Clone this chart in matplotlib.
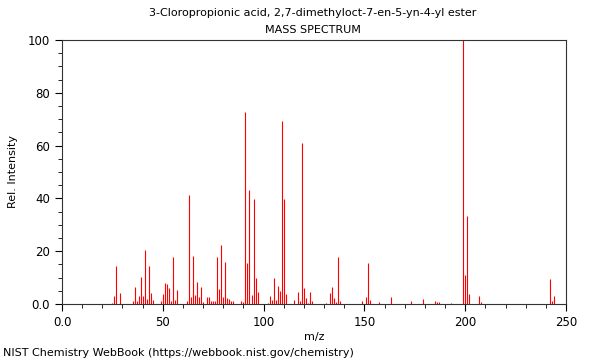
import numpy as np
import matplotlib
matplotlib.use("Agg")
import matplotlib.pyplot as plt
from matplotlib.ticker import MultipleLocator, FuncFormatter

# === Spectre de masse ===
mz = [25, 26, 27, 29, 35, 36, 37, 38, 39, 40, 41, 42, 43, 44, 45,
      49, 50, 51, 52, 53, 54, 55, 56, 57, 62, 63, 64, 65, 66, 67, 68, 69, 70,
      72, 73, 74, 75, 76, 77, 78, 79, 80, 81, 82, 83, 84, 85,
      89, 90, 91, 92, 93, 94, 95, 96, 97,
      102, 103, 104, 105, 106, 107, 108, 109, 110, 111,
      115, 117, 118, 119, 120, 121, 122, 123, 124,
      131, 133, 134, 135, 136, 137, 138,
      149, 151, 152, 153, 157, 163, 173, 179, 185, 186, 187, 193,
      199, 200, 201, 202, 207, 208, 242, 243, 244]
intensity = [0.5, 3.1, 14.4, 4.3, 1.0, 6.3, 1.0, 3.0, 10.3, 3.0, 20.4, 1.8, 14.4, 4.0, 1.5,
             1.0, 3.8, 8.0, 7.6, 6.0, 1.0, 17.7, 1.5, 5.3, 1.3, 41.3, 2.5, 18.2, 3.3, 8.3, 2.5, 6.3, 0.8,
             2.5, 2.5, 1.0, 1.0, 1.0, 17.9, 5.8, 22.3, 2.7, 16.0, 2.3, 2.0, 1.3, 1.3,
             1.0, 0.7, 72.8, 15.4, 43.2, 3.3, 39.8, 10.0, 4.5,
             0.5, 3.0, 1.4, 10.0, 1.4, 6.8, 5.0, 69.3, 39.8, 3.9,
             1.5, 4.6, 1.0, 61.1, 6.0, 2.3, 0.5, 4.6, 1.0,
             0.5, 4.2, 6.3, 2.3, 0.8, 17.9, 1.3,
             1.0, 2.8, 15.4, 1.5, 0.7, 2.5, 1.0, 1.8, 1.3, 0.8, 0.6, 0.4,
             100.0, 11.0, 33.3, 3.8, 3.0, 0.7, 9.3, 1.3, 3.1]

title = "3-Cloropropionic acid, 2,7-dimethyloct-7-en-5-yn-4-yl ester"

fig = plt.figure(figsize=(6, 3.6), dpi=100)
ax = fig.add_axes([62/600, 1-304/360, 504/600, 264/360])

ax.vlines(mz, 0, intensity, color="red", linewidth=0.8)

ax.set_xlim(0, 250)
ax.set_ylim(0, 100)
ax.xaxis.set_major_locator(MultipleLocator(50))
ax.xaxis.set_minor_locator(MultipleLocator(10))
ax.yaxis.set_major_locator(MultipleLocator(20))
ax.yaxis.set_minor_locator(MultipleLocator(5))
fmt = FuncFormatter(lambda v, p: "0.0" if v == 0 else "%d" % v)
ax.xaxis.set_major_formatter(fmt)
ax.yaxis.set_major_formatter(fmt)
ax.tick_params(which="major", length=5, width=0.8, labelsize=8.5)
ax.tick_params(which="minor", length=3, width=0.6)
for s in ax.spines.values():
    s.set_linewidth(0.8)
    s.set_color("#333333")

ax.set_xlabel("m/z", fontsize=8, labelpad=2)
ax.set_ylabel("Rel. Intensity", fontsize=8, labelpad=7)

fig.text(313/600, 1-13/360, title, ha="center", va="center", fontsize=8)
fig.text(313/600, 1-30/360, "MASS SPECTRUM", ha="center", va="center", fontsize=8)
fig.text(3/600, 1-353/360, "NIST Chemistry WebBook (https://webbook.nist.gov/chemistry)",
         ha="left", va="center", fontsize=8)

fig.savefig("out.png", dpi=100)
